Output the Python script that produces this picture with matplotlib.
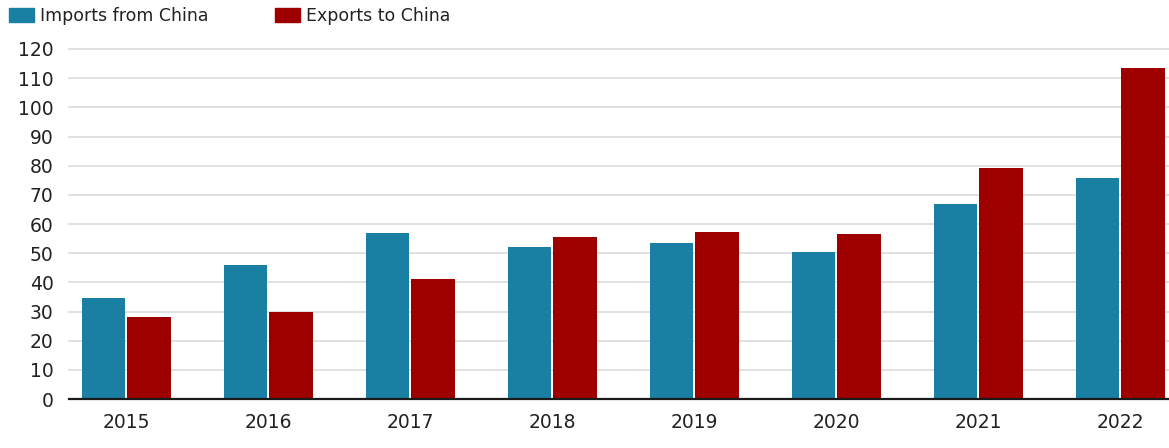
import numpy as np
import matplotlib.pyplot as plt
from matplotlib.patches import Patch

plt.rcParams['font.family'] = ['DejaVu Sans']

years = ['2015', '2016', '2017', '2018', '2019', '2020', '2021', '2022']
imports_from_china = [34.7, 46.1, 56.8, 52.0, 53.6, 50.3, 66.9, 75.7]
exports_to_china = [28.0, 29.8, 41.2, 55.7, 57.1, 56.6, 79.1, 113.5]
series_names = ['Imports from China', 'Exports to China']

teal = '#1a80a3'
red = '#9e0000'

fig = plt.figure(figsize=(11.69, 4.48), dpi=100)
ax = fig.add_axes([69 / 1169, 49 / 448, 1 - 69 / 1169, 350 / 448])

x = np.arange(len(years))
w = 0.306
ax.bar(x - 0.161, imports_from_china, w, color=teal, zorder=3)
ax.bar(x + 0.161, exports_to_china, w, color=red, zorder=3)

ax.set_xlim(-0.403, 7.344)
ax.set_ylim(0, 120)
ax.set_yticks(range(0, 121, 10))
ax.set_xticks(x)
ax.set_xticklabels(years)
ax.tick_params(axis='y', length=0, pad=11, labelsize=13.5, labelcolor='#222222')
ax.tick_params(axis='x', length=0, pad=10, labelsize=13.5, labelcolor='#222222')
ax.grid(axis='y', color='#dcdcdc', linewidth=1.2, zorder=0)
for gl in ax.yaxis.get_gridlines():
    gl.set_clip_on(False)
for s in ['left', 'right', 'top']:
    ax.spines[s].set_visible(False)
ax.spines['bottom'].set_color('#1a1a1a')
ax.spines['bottom'].set_linewidth(1.6)
ax.spines['bottom'].set_zorder(4)

handles = [Patch(color=teal), Patch(color=red)]
fig.legend(handles, series_names, loc='upper left', bbox_to_anchor=(9 / 1169, 1 - 7 / 448),
           ncol=2, frameon=False, fontsize=12.5, handlelength=1.45, handleheight=0.8,
           handletextpad=0.35, columnspacing=3.8, borderpad=0, borderaxespad=0,
           labelcolor='#222222')

fig.savefig('out.png', dpi=100)
